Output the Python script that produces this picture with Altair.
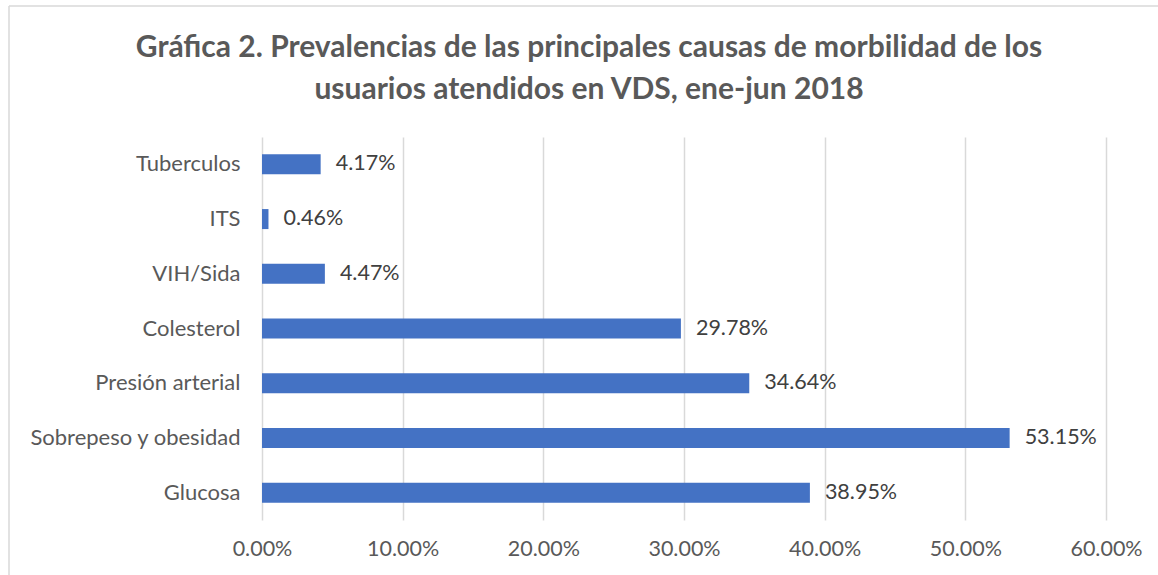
import altair as alt
import pandas as pd

categories = ["Tuberculos", "ITS", "VIH/Sida", "Colesterol", "Presión arterial",
              "Sobrepeso y obesidad", "Glucosa"]
values = [4.17, 0.46, 4.47, 29.78, 34.64, 53.15, 38.95]
x_ticks = [0, 10, 20, 30, 40, 50, 60]

df = pd.DataFrame({"cat": categories, "val": values})

FONT = "Lato"
GRAY = "#595959"

base = alt.Chart(df)

bars = base.mark_bar(color="#4472C4", size=20).encode(
    x=alt.X("val:Q", scale=alt.Scale(domain=[0, 60], nice=False),
            axis=alt.Axis(values=x_ticks, labelExpr="format(datum.value, '.2f') + '%'",
                          title=None, domain=False, ticks=False, grid=True,
                          gridColor="#D9D9D9", gridWidth=1.5, labelPadding=18,
                          labelFlush=False,
                          labelFontSize=21.5, labelColor=GRAY, labelFont=FONT)),
    y=alt.Y("cat:N", sort=categories,
            axis=alt.Axis(title=None, domain=False, ticks=False, grid=False, labelPadding=22,
                          labelFontSize=22, labelColor=GRAY, labelFont=FONT, labelLimit=400)),
)

labels = base.transform_calculate(
    lab="format(datum.val, '.2f') + '%'"
).mark_text(align="left", baseline="middle", dx=15, fontSize=21.5, color="#404040", font=FONT).encode(
    x="val:Q",
    y=alt.Y("cat:N", sort=categories),
    text="lab:N",
)

border_data = alt.Data(values=[{"a": 1}])
border_top = alt.Chart(border_data).mark_rule(color="#D9D9D9", strokeWidth=1.5).encode(
    x=alt.value(-253), x2=alt.value(1000), y=alt.value(-131)
)
border_left = alt.Chart(border_data).mark_rule(color="#D9D9D9", strokeWidth=1.5).encode(
    x=alt.value(-253), y=alt.value(-131), y2=alt.value(500)
)

chart = alt.layer(border_top, border_left, bars, labels).properties(
    width=844, height=383,
    background="white",
    title=alt.Title(
        ["Gráfica 2. Prevalencias de las principales causas de morbilidad de los",
         "usuarios atendidos en VDS, ene-jun 2018"],
        font=FONT, fontSize=30, fontWeight="bold", color=GRAY, anchor="middle",
        frame="group", dx=-95, offset=0, dy=100, lineHeight=42,
    ),
    autosize=alt.AutoSizeParams(type="none"),
    padding={"left": 262, "top": 137, "right": 52, "bottom": 55},
).configure_view(stroke="transparent", strokeWidth=0)

chart.save("out.html", embed_options={"renderer": "svg", "actions": False})
